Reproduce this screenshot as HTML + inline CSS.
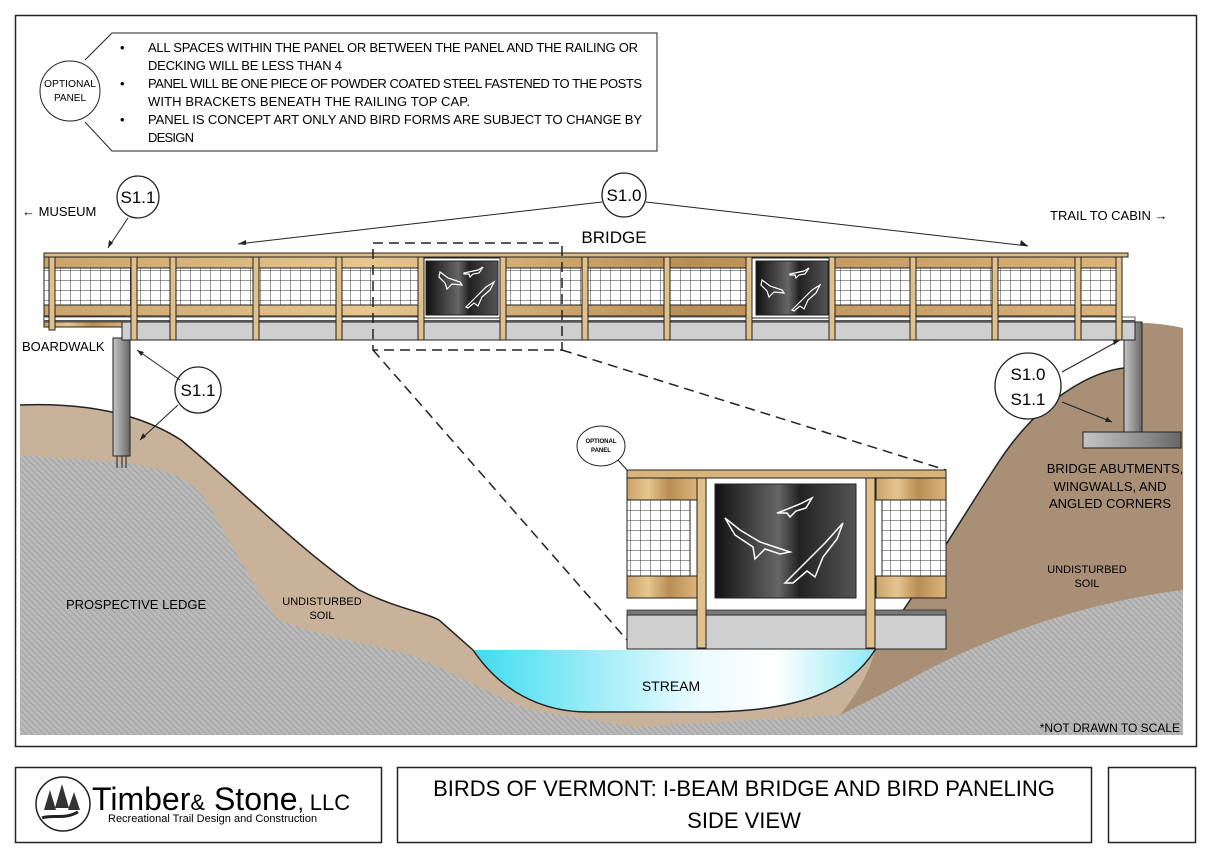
<!DOCTYPE html>
<html><head><meta charset="utf-8"><style>
html,body{margin:0;padding:0;background:#fff}
svg{display:block}
text{font-family:"Liberation Sans",sans-serif}
</style></head><body>
<svg width="1211" height="857" viewBox="0 0 1211 857" xmlns="http://www.w3.org/2000/svg">
<defs>
<pattern id="mesh" width="10" height="10" patternUnits="userSpaceOnUse">
<rect width="10" height="10" fill="#fff"/><path d="M0 0H10M0 0V10" stroke="#333" stroke-width="1"/></pattern>
<pattern id="hatch" width="6" height="6" patternUnits="userSpaceOnUse">
<rect width="6" height="6" fill="#b9b9b9"/><path d="M0 0L6 6" stroke="#a0a0a0" stroke-width="1"/></pattern>
<linearGradient id="wood" x1="0" x2="1"><stop offset="0" stop-color="#c9a36a"/><stop offset=".3" stop-color="#e7c68f"/><stop offset=".6" stop-color="#b88e55"/><stop offset="1" stop-color="#dcb47a"/></linearGradient>
<linearGradient id="steel" x1="0" x2="1"><stop offset="0" stop-color="#111"/><stop offset=".45" stop-color="#666"/><stop offset=".6" stop-color="#222"/><stop offset="1" stop-color="#555"/></linearGradient>
<linearGradient id="pier" x1="0" x2="1"><stop offset="0" stop-color="#c4c4c4"/><stop offset=".5" stop-color="#999"/><stop offset="1" stop-color="#666"/></linearGradient>
<linearGradient id="water" x1="0" x2="1"><stop offset="0" stop-color="#3fdbef"/><stop offset=".55" stop-color="#e9fbff"/><stop offset=".75" stop-color="#fff"/><stop offset="1" stop-color="#8eeaf6"/></linearGradient>
</defs>
<rect x="15.5" y="15.5" width="1181" height="731" fill="none" stroke="#222" stroke-width="1.5"/>

<!-- ground -->
<path d="M20 405 C100 402 150 420 181 440 C230 480 300 550 359 590 C400 610 425 612 439 620 L473 650 L875 650 C920 590 960 520 1000 460 C1040 400 1090 372 1124 368 L1124 323 C1150 322 1170 325 1183 328 L1183 735 L20 735 Z" fill="#c8b39a"/>
<path d="M840 715 C860 690 870 670 875 650 C920 590 960 520 1000 460 C1040 400 1090 372 1124 368 L1124 323 C1150 322 1170 325 1183 328 L1183 735 L820 735 Z" fill="#a88f76"/>
<path d="M20 455 L130 463 C170 470 190 480 204 497 C230 540 260 600 279 620 C330 640 380 645 416 657 C460 675 500 700 531 710 L634 727 L840 715 C870 700 890 690 914 677 C1000 630 1100 600 1183 590 L1183 735 L20 735 Z" fill="url(#hatch)"/>
<path d="M20 405 C100 402 150 420 181 440 C230 480 300 550 359 590 C400 610 425 612 439 620 L473 650" fill="none" stroke="#222" stroke-width="1.5"/>
<path d="M875 650 C920 590 960 520 1000 460 C1040 400 1090 372 1124 368" fill="none" stroke="#222" stroke-width="1.5"/>
<!-- stream -->
<path d="M473 650 L875 650 C850 690 800 712 703 712 L588 712 C540 712 500 690 473 650 Z" fill="url(#water)"/>
<path d="M473 650 C500 690 540 712 588 712 L703 712 C800 712 850 690 875 650" fill="none" stroke="#222" stroke-width="1.5"/>
<text x="671" y="691" font-size="14" text-anchor="middle">STREAM</text>

<!-- piers -->
<rect x="113" y="338" width="17" height="118" fill="url(#pier)" stroke="#222"/>
<path d="M117 456v12M122 456v12M126 456v12" stroke="#222"/>
<rect x="1124" y="322" width="18" height="110" fill="url(#pier)" stroke="#222"/>
<rect x="1083" y="432" width="98" height="16" fill="url(#pier)" stroke="#222"/>

<!-- bridge -->
<rect x="44" y="316" width="80" height="11" fill="url(#wood)" stroke="#222"/>
<rect x="122" y="322" width="1013" height="18" fill="#cfcfcf" stroke="#222"/>
<rect x="44" y="317" width="1091" height="5" fill="#fff" stroke="#222" stroke-width=".7"/>
<rect x="44" y="320" width="1091" height="2" fill="#555"/>
<rect x="44" y="268" width="1078" height="37" fill="url(#mesh)" stroke="#222"/>
<rect x="44" y="257" width="1078" height="11" fill="url(#wood)" stroke="#222"/>
<rect x="44" y="305" width="1078" height="11" fill="url(#wood)" stroke="#222"/>
<rect x="44" y="253" width="1084" height="4" fill="#e0bd84" stroke="#222"/>
<!-- bird panels -->
<g>
<rect x="421" y="258" width="82" height="60" fill="#fff" stroke="#222"/>
<rect x="426" y="261" width="72" height="54" fill="url(#steel)" stroke="#222"/>
<path d="M440 272l8 6 12 4 2 3-10-1-5 5-2-6-6-6z M464 273l14-3 5-3-4 6-6 1-3 3-1-3-5 0z M466 307l10-10 10-10 8-5-4 8-8 7-4 9-4-3-6 5z" fill="none" stroke="#fff" stroke-width="1.2"/>
<rect x="751" y="258" width="82" height="60" fill="#fff" stroke="#222"/>
<rect x="756" y="261" width="72" height="54" fill="url(#steel)" stroke="#222"/>
<path d="M762 280l8 6 12 4 2 3-10-1-5 5-2-6-6-6z M790 274l14-3 5-3-4 6-6 1-3 3-1-3-5 0z M792 310l10-10 10-10 8-5-4 8-8 7-4 9-4-3-6 5z" fill="none" stroke="#fff" stroke-width="1.2"/>
</g>
<g fill="#e2c08a" stroke="#222">
<rect x="49" y="257" width="6" height="73"/>
<rect x="131" y="257" width="6" height="83"/>
<rect x="170" y="257" width="6" height="83"/>
<rect x="253" y="257" width="6" height="83"/>
<rect x="336" y="257" width="6" height="83"/>
<rect x="418" y="257" width="6" height="83"/>
<rect x="500" y="257" width="6" height="83"/>
<rect x="582" y="257" width="6" height="83"/>
<rect x="664" y="257" width="6" height="83"/>
<rect x="746" y="257" width="6" height="83"/>
<rect x="829" y="257" width="6" height="83"/>
<rect x="910" y="257" width="6" height="83"/>
<rect x="992" y="257" width="6" height="83"/>
<rect x="1075" y="257" width="6" height="83"/>
<rect x="1116" y="257" width="6" height="83"/>
</g>

<!-- dashed detail -->
<g fill="none" stroke="#222" stroke-width="1.5" stroke-dasharray="10 6">
<rect x="373" y="243" width="189" height="107"/>
<path d="M373 350L627 640M562 350L946 470"/>
</g>

<!-- inset -->
<rect x="627" y="615" width="319" height="34" fill="#cfcfcf" stroke="#222"/>
<rect x="627" y="610" width="319" height="5" fill="#777" stroke="#222" stroke-width=".7"/>
<rect x="627" y="500" width="63" height="76" fill="url(#mesh)" stroke="#222"/>
<rect x="882" y="500" width="64" height="76" fill="url(#mesh)" stroke="#222"/>
<rect x="627" y="478" width="70" height="22" fill="url(#wood)" stroke="#222"/>
<rect x="876" y="478" width="70" height="22" fill="url(#wood)" stroke="#222"/>
<rect x="627" y="576" width="70" height="22" fill="url(#wood)" stroke="#222"/>
<rect x="876" y="576" width="70" height="22" fill="url(#wood)" stroke="#222"/>
<rect x="706" y="482" width="160" height="117" fill="#fff"/>
<rect x="715" y="484" width="141" height="114" fill="url(#steel)" stroke="#222"/>
<path d="M725 518l15 12 20 12 30 10-10 2-15-5-10 10 -2-12-18-12z M780 512l20-8 12-6-6 10-10 3-6 6-3-4-10 0z M785 583l20-20 20-20 18-20-6 16-14 18-8 20-8-6-14 12z" fill="none" stroke="#fff" stroke-width="1.5"/>
<rect x="697" y="478" width="9" height="170" fill="#e2c08a" stroke="#222"/>
<rect x="866" y="478" width="9" height="170" fill="#e2c08a" stroke="#222"/>
<rect x="627" y="470" width="319" height="8" fill="#d8b37a" stroke="#222"/>
<path d="M618 460 L627 470" stroke="#222" fill="none"/>
<ellipse cx="601" cy="446" rx="24" ry="20" fill="#fff" stroke="#222"/>
<text x="601" y="443" font-size="6" font-weight="bold" text-anchor="middle">OPTIONAL</text>
<text x="601" y="452" font-size="6" font-weight="bold" text-anchor="middle">PANEL</text>

<!-- callout -->
<path d="M85 60 L112 33 L657 33 L657 151 L112 151 L85 122" fill="#fff" stroke="#222"/>
<circle cx="70" cy="91" r="30" fill="#fff" stroke="#222"/>
<text x="70" y="87" font-size="10" text-anchor="middle" textLength="52" lengthAdjust="spacingAndGlyphs">OPTIONAL</text>
<text x="70" y="101" font-size="10" text-anchor="middle">PANEL</text>
<g font-size="13" lengthAdjust="spacingAndGlyphs">
<text x="120" y="52">•</text><text x="120" y="88">•</text><text x="120" y="124">•</text>
<text x="148" y="52" textLength="490">ALL SPACES WITHIN THE PANEL OR BETWEEN THE PANEL AND THE RAILING OR</text>
<text x="148" y="70" textLength="194">DECKING WILL BE LESS THAN 4</text>
<text x="148" y="88" textLength="494">PANEL WILL BE ONE PIECE OF POWDER COATED STEEL FASTENED TO THE POSTS</text>
<text x="148" y="106" textLength="322">WITH BRACKETS BENEATH THE RAILING TOP CAP.</text>
<text x="148" y="124" textLength="494">PANEL IS CONCEPT ART ONLY AND BIRD FORMS ARE SUBJECT TO CHANGE BY</text>
<text x="148" y="142" textLength="46">DESIGN</text>
</g>

<!-- labels -->
<g fill="#fff" stroke="#222" stroke-width="1.3">
<circle cx="138" cy="197" r="21"/><circle cx="624" cy="195" r="22"/>
<circle cx="198" cy="390" r="23"/><circle cx="1028" cy="386" r="33"/>
</g>
<g font-size="17" text-anchor="middle">
<text x="138" y="203">S1.1</text><text x="624" y="201">S1.0</text>
<text x="198" y="396">S1.1</text><text x="1028" y="380">S1.0</text><text x="1028" y="405">S1.1</text>
</g>
<text x="614" y="243" font-size="17" text-anchor="middle">BRIDGE</text>
<g font-size="13">
<text x="22" y="216">←  MUSEUM</text>
<text x="1050" y="220">TRAIL TO CABIN  →</text>
<text x="22" y="351">BOARDWALK</text>
<text x="66" y="609">PROSPECTIVE LEDGE</text>
<text x="1115" y="473" text-anchor="middle">BRIDGE ABUTMENTS,</text>
<text x="1110" y="491" text-anchor="middle">WINGWALLS, AND</text>
<text x="1110" y="508" text-anchor="middle">ANGLED CORNERS</text>
</g>
<g font-size="11" text-anchor="middle">
<text x="322" y="605">UNDISTURBED</text><text x="322" y="619">SOIL</text>
<text x="1087" y="573">UNDISTURBED</text><text x="1087" y="587">SOIL</text>
</g>
<text x="1180" y="732" font-size="12" text-anchor="end">*NOT DRAWN TO SCALE</text>
<g stroke="#222" fill="none">
<path d="M128 218L108 248M602 202L238 244M646 202L1028 246M180 380L137 350M178 405L140 440M1062 372L1120 340M1062 402L1112 422"/>
</g>
<g fill="#222">
<path d="M108 248l1-8 4 3z M238 244l8-4 0 5z M1028 246l-8-1 1-5z M137 350l7 2-3 4z M140 440l3-7 3 4z M1120 340l-6 5-1-5z M1112 422l-7 0 2-5z"/>
</g>

<!-- title block -->
<rect x="15.5" y="767.5" width="366" height="75" fill="#fff" stroke="#222" stroke-width="1.5"/>
<rect x="397.5" y="767.5" width="694" height="75" fill="#fff" stroke="#222" stroke-width="1.5"/>
<rect x="1108.5" y="767.5" width="87" height="75" fill="#fff" stroke="#222" stroke-width="1.5"/>
<circle cx="63" cy="804" r="27" fill="#fff" stroke="#222" stroke-width="1.5"/>
<path d="M50 790l-6 20h12zM62 784l-7 24h14zM74 792l-6 18h12z" fill="#333"/>
<path d="M42 818c10-4 22 2 36-6" stroke="#222" stroke-width="3" fill="none"/>
<text x="92" y="810" font-family="Liberation Serif,serif" font-size="32">Timber<tspan font-size="22">&amp;</tspan> Stone<tspan font-size="22">, LLC</tspan></text>
<text x="108" y="822" font-family="Liberation Serif,serif" font-size="11">Recreational Trail Design and Construction</text>
<text x="744" y="796" font-size="22" text-anchor="middle">BIRDS OF VERMONT: I-BEAM BRIDGE AND BIRD PANELING</text>
<text x="744" y="828" font-size="22" text-anchor="middle">SIDE VIEW</text>
</svg>
</body></html>
